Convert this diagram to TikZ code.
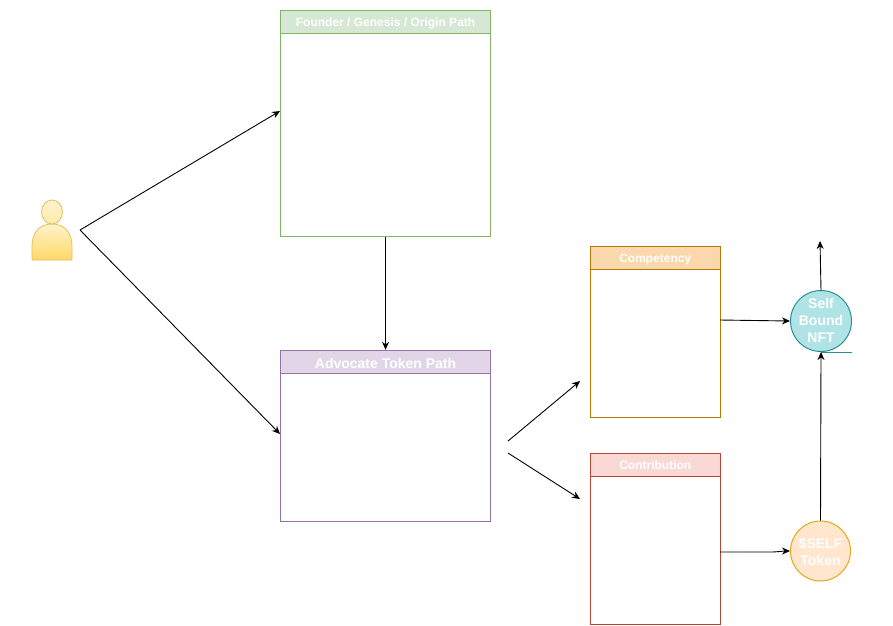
\documentclass[tikz,border=0pt]{standalone}
\usepackage{fontspec}
\setmainfont{Liberation Sans}
\usetikzlibrary{arrows.meta,calc}
\definecolor{greenL}{HTML}{82B366}\definecolor{greenF}{HTML}{D5E8D4}
\definecolor{purpL}{HTML}{9673A6}\definecolor{purpF}{HTML}{E1D5E7}
\definecolor{orL}{HTML}{B87508}\definecolor{orF}{HTML}{FAD7AC}
\definecolor{redL}{HTML}{B84636}\definecolor{redF}{HTML}{FAD9D5}
\definecolor{tealL}{HTML}{2A9096}\definecolor{tealF}{HTML}{B0E3E6}
\definecolor{yelL}{HTML}{E0A820}\definecolor{yelF}{HTML}{FFE6CC}
\definecolor{persL}{HTML}{E0C060}\definecolor{persA}{HTML}{FFF2CC}\definecolor{persB}{HTML}{FFD966}
\tikzset{
  x=1pt,y=-1pt,
  panel/.style={draw=#1,line width=1pt,fill=white,inner sep=0pt},
  head/.style 2 args={draw=#1,fill=#2,line width=1pt,text=white,font=\bfseries\fontsize{12}{14}\selectfont,inner sep=0pt,anchor=north west,minimum height=23pt,text height=9pt,text depth=0pt},
  link/.style={draw=black,line width=0.9pt,-{Stealth[length=8pt,width=7pt]}},
  orb/.style 2 args={circle,draw=#1,fill=#2,line width=1pt,inner sep=0pt},
  orbtext/.style={text=white,inner sep=0pt,align=center,font=\bfseries\fontsize{14}{17}\selectfont},
}
\begin{document}
\begin{tikzpicture}[x=1pt,y=-1pt]
\useasboundingbox (0,0) rectangle (893,625);
\fill[white] (0,0) rectangle (893,625);
% person
\draw[persL,line width=0.8pt,top color=persA,bottom color=persB]
  (32,260) -- (32,246) .. controls (32,232) and (40,224) .. (52,224) .. controls (64,224) and (72,232) .. (72,246) -- (72,260) -- cycle;
\draw[persL,line width=0.8pt,top color=persA,bottom color=persA!70!persB] (52,212) ellipse [x radius=10.5,y radius=12];
\coordinate (personOut) at (80,230);
% panels
\node[panel=greenL,minimum width=210.5pt,minimum height=226.3pt,anchor=north west] (founder) at (279.8,9.8) {};
\node[head={greenL}{greenF},minimum width=210.5pt] (founderHead) at (279.8,9.8) {Founder / Genesis / Origin Path};
\node[panel=purpL,minimum width=210.5pt,minimum height=171pt,anchor=north west] (advocate) at (279.8,349.8) {};
\node[head={purpL}{purpF},minimum width=210.5pt,font=\bfseries\fontsize{14}{16}\selectfont,text height=14pt] (advocateHead) at (279.8,349.8) {Advocate Token Path};
\node[panel=orL,minimum width=130pt,minimum height=171pt,anchor=north west] (competency) at (589.8,245.8) {};
\node[head={orL}{orF},minimum width=130pt] (competencyHead) at (589.8,245.8) {Competency};
\node[panel=redL,minimum width=130pt,minimum height=171pt,anchor=north west] (contribution) at (589.8,452.8) {};
\node[head={redL}{redF},minimum width=130pt] (contributionHead) at (589.8,452.8) {Contribution};
% circles
\node[orb={tealL}{tealF},minimum size=61pt,label={[orbtext,yshift=1pt]center:Self\\Bound\\NFT}] (nft) at (821,321) {};
\node[orb={yelL}{yelF},minimum size=60pt,label={[orbtext,yshift=-1pt]center:\$SELF\\Token}] (self) at (820.5,551) {};
\draw[tealL,line width=0.9pt] (nft.south) -- ++(31,0) coordinate (nftTail);
% free ends
\coordinate (founderIn) at (280,111);
\coordinate (advocateIn) at (280,434);
\coordinate (advOutA) at (508,441);
\coordinate (advOutB) at (508,453);
\coordinate (compIn) at (580,381);
\coordinate (contIn) at (580,499);
\coordinate (compOut) at (720,320);
\coordinate (contOut) at (720,552);
\coordinate (nftUp) at (820,241);
\coordinate (nftTop) at (821,290.5);
% connectors
\draw[link] (personOut) -- (founderIn);
\draw[link] (personOut) -- (advocateIn);
\draw[link] (founder.south) -- (advocate.north);
\draw[link] (advOutA) -- (compIn);
\draw[link] (advOutB) -- (contIn);
\draw[link] (compOut) -- (nft.west);
\draw[link] (contOut) -- (750,552) -- (770,552) .. controls (778,552) and (783,551) .. (self.west);
\draw[link] (self.north) -- (nft.south);
\draw[link] (nftTop) -- (nftUp);
\end{tikzpicture}
\end{document}
